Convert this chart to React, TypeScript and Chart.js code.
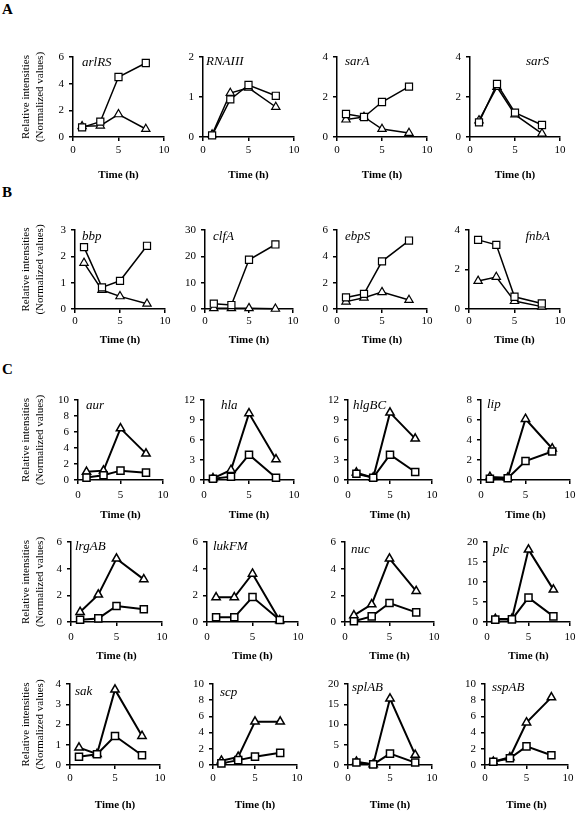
import React, { useEffect, useRef } from 'react';
import { Chart, registerables } from 'chart.js';

Chart.register(...registerables);

const FONT = '"Liberation Serif", "Times New Roman", serif';

// sampling times (h)
const hours = [1, 3, 5, 8];
const xTickValues = [0, 5, 10];

// ---- Panel A ----
const arlRSSquares = [0.72, 1.15, 4.5, 5.55];
const arlRSTriangles = [0.8, 0.85, 1.7, 0.6];
const RNAIIISquares = [0.04, 0.94, 1.3, 1.03];
const RNAIIITriangles = [0.06, 1.1, 1.23, 0.75];
const sarASquares = [1.15, 1.0, 1.75, 2.52];
const sarATriangles = [0.87, 1.0, 0.4, 0.2];
const sarSSquares = [0.73, 2.65, 1.22, 0.6];
const sarSTriangles = [0.83, 2.5, 1.12, 0.17];

// ---- Panel B ----
const bbpSquares = [2.35, 0.82, 1.07, 2.4];
const bbpTriangles = [1.75, 0.72, 0.48, 0.2];
const clfASquares = [2.0, 1.5, 18.7, 24.5];
const clfATriangles = [0.3, 0.3, 0.3, 0.05];
const ebpSSquares = [0.88, 1.15, 3.62, 5.2];
const ebpSTriangles = [0.56, 0.85, 1.28, 0.68];
const fnbASquares = [3.5, 3.25, 0.62, 0.28];
const fnbATriangles = [1.42, 1.62, 0.4, 0.12];

// ---- Panel C ----
const aurSquares = [0.3, 0.6, 1.17, 0.92];
const aurTriangles = [1.02, 1.17, 6.45, 3.3];
const hlaSquares = [0.2, 0.5, 3.8, 0.35];
const hlaTriangles = [0.25, 1.5, 10.0, 3.1];
const hlgBCSquares = [0.95, 0.35, 3.8, 1.2];
const hlgBCTriangles = [1.1, 0.35, 10.1, 6.2];
const lipSquares = [0.13, 0.17, 1.9, 2.85];
const lipTriangles = [0.3, 0.23, 6.1, 3.15];
const lrgABSquares = [0.17, 0.27, 1.2, 0.95];
const lrgABTriangles = [0.75, 2.05, 4.75, 3.2];
const lukFMSquares = [0.35, 0.35, 1.87, 0.15];
const lukFMTriangles = [1.85, 1.85, 3.62, 0.12];
const nucSquares = [0.05, 0.42, 1.42, 0.72];
const nucTriangles = [0.5, 1.32, 4.75, 2.32];
const plcSquares = [0.6, 0.65, 6.1, 1.4];
const plcTriangles = [0.75, 0.8, 18.1, 8.1];
const sakSquares = [0.41, 0.53, 1.43, 0.48];
const sakTriangles = [0.86, 0.54, 3.72, 1.43];
const scpSquares = [0.2, 0.6, 1.03, 1.5];
const scpTriangles = [0.53, 1.0, 5.35, 5.35];
const splABSquares = [0.6, 0.15, 2.8, 0.6];
const splABTriangles = [0.8, 0.15, 16.4, 2.5];
const sspABSquares = [0.4, 0.83, 2.3, 1.2];
const sspABTriangles = [0.4, 0.95, 5.25, 8.35];

const geneNames = [
  'arlRS', 'RNAIII', 'sarA', 'sarS',
  'bbp', 'clfA', 'ebpS', 'fnbA',
  'aur', 'hla', 'hlgBC', 'lip',
  'lrgAB', 'lukFM', 'nuc', 'plc',
  'sak', 'scp', 'splAB', 'sspAB',
];
const squareSeries = [
  arlRSSquares, RNAIIISquares, sarASquares, sarSSquares,
  bbpSquares, clfASquares, ebpSSquares, fnbASquares,
  aurSquares, hlaSquares, hlgBCSquares, lipSquares,
  lrgABSquares, lukFMSquares, nucSquares, plcSquares,
  sakSquares, scpSquares, splABSquares, sspABSquares,
];
const triangleSeries = [
  arlRSTriangles, RNAIIITriangles, sarATriangles, sarSTriangles,
  bbpTriangles, clfATriangles, ebpSTriangles, fnbATriangles,
  aurTriangles, hlaTriangles, hlgBCTriangles, lipTriangles,
  lrgABTriangles, lukFMTriangles, nucTriangles, plcTriangles,
  sakTriangles, scpTriangles, splABTriangles, sspABTriangles,
];
const yMaxValues = [6, 2, 4, 4, 3, 30, 6, 4, 10, 12, 12, 8, 6, 6, 6, 20, 4, 10, 20, 10];
const yStepValues = [2, 1, 2, 2, 1, 10, 2, 2, 2, 3, 3, 2, 2, 2, 2, 5, 1, 2, 5, 2];

const xTitle = 'Time (h)';
const yTitle = ['Relative intensities', '(Normalized values)'];
const sectionLetters = ['A', 'B', 'C'];

// ---- layout (page pixels) ----
const ROWS = [
  { top: 57, bottom: 137, tickY: 150, titleY: 175, lw: 1.5, cols: [[73, 164], [203, 294], [337, 427], [470, 560]] },
  { top: 230, bottom: 309, tickY: 321, titleY: 340, lw: 1.5, cols: [[75, 165], [205, 293], [337, 427], [469, 560]] },
  { top: 400, bottom: 480, tickY: 495, titleY: 515, lw: 2, cols: [[78, 163], [204, 294], [348, 432], [481, 570]] },
  { top: 542, bottom: 622, tickY: 637, titleY: 656, lw: 2, cols: [[71, 162], [207, 298], [345, 434], [487, 570]] },
  { top: 684, bottom: 765, tickY: 778, titleY: 805, lw: 2, cols: [[70, 160], [213, 297], [348, 432], [485, 568]] },
];
const LABEL_POS: [number, number, 'left' | 'right'][] = [
  [9, 6, 'left'], [3, 5, 'left'], [8, 5, 'left'], [11, 5, 'right'],
  [7, 7, 'left'], [8, 7, 'left'], [8, 7, 'left'], [10, 7, 'right'],
  [8, 6, 'left'], [17, 6, 'left'], [5, 6, 'left'], [6, 5, 'left'],
  [4, 5, 'left'], [6, 5, 'left'], [6, 8, 'left'], [6, 8, 'left'],
  [5, 8, 'left'], [7, 9, 'left'], [4, 4, 'left'], [7, 4, 'left'],
];
const LETTER_TOPS = [2, 185, 362];

const geneLabelPlugin = {
  id: 'geneLabel',
  afterDatasetsDraw(chart: any, _args: any, opts: any) {
    const { ctx, chartArea } = chart;
    ctx.save();
    ctx.font = `italic 13px ${FONT}`;
    ctx.fillStyle = '#000';
    ctx.textBaseline = 'middle';
    ctx.textAlign = opts.align;
    const x = opts.align === 'right' ? chartArea.right - opts.dx : chartArea.left + opts.dx;
    ctx.fillText(opts.text, x, chartArea.top + opts.dy);
    ctx.restore();
  },
};

function Panel({ idx }: { idx: number }) {
  const ref = useRef<HTMLCanvasElement>(null);
  const rowIdx = Math.floor(idx / 4);
  const colIdx = idx % 4;
  const row = ROWS[rowIdx];
  const [x0, x1] = row.cols[colIdx];
  const isLeft = colIdx === 0;
  const L = isLeft ? x0 : 50;
  const T = 12;
  const R = 14;
  const H = Math.round(row.titleY + 6.6 - row.bottom);
  const W = L + (x1 - x0) + R;
  const HC = T + (row.bottom - row.top) + H;
  const tickPad = row.tickY - row.bottom - 4 - 6.6;

  useEffect(() => {
    if (!ref.current) return;
    const lw = row.lw;
    const mk = (vals: number[]) => hours.map((h, i) => ({ x: h, y: vals[i] }));
    const [dx, dy, align] = LABEL_POS[idx];
    const chart = new Chart(ref.current, {
      type: 'line',
      data: {
        datasets: [
          {
            label: 'squares',
            data: mk(squareSeries[idx]),
            borderColor: '#000',
            borderWidth: lw,
            pointStyle: 'rect',
            pointRadius: 5,
            pointBackgroundColor: '#fff',
            pointBorderColor: '#000',
            pointBorderWidth: lw === 2 ? 1.5 : 1.2,
            tension: 0,
            clip: false,
          },
          {
            label: 'triangles',
            data: mk(triangleSeries[idx]),
            borderColor: '#000',
            borderWidth: lw,
            pointStyle: 'triangle',
            pointRadius: 4.8,
            pointBackgroundColor: '#fff',
            pointBorderColor: '#000',
            pointBorderWidth: lw === 2 ? 1.5 : 1.2,
            tension: 0,
            clip: false,
          },
        ],
      },
      options: {
        animation: false,
        responsive: false,
        maintainAspectRatio: false,
        events: [],
        layout: { padding: { left: 0, top: T, right: R, bottom: 0 } },
        plugins: {
          legend: { display: false },
          tooltip: { enabled: false },
          geneLabel: { text: geneNames[idx], dx, dy, align },
        } as any,
        scales: {
          x: {
            type: 'linear',
            min: 0,
            max: 10,
            afterBuildTicks: (scale: any) => {
              scale.ticks = xTickValues.map((v) => ({ value: v }));
            },
            ticks: {
              color: '#000',
              font: { family: FONT, size: 11 },
              padding: tickPad,
              maxRotation: 0,
              autoSkip: false,
            },
            grid: { drawOnChartArea: false, drawTicks: true, tickLength: 4, color: '#000', lineWidth: 1.5 },
            border: { display: true, color: '#000', width: 1.5 },
            title: {
              display: true,
              text: xTitle,
              color: '#000',
              font: { family: FONT, size: 11, weight: 'bold', lineHeight: 1.2 },
              padding: { top: 0, bottom: 0 },
            },
            afterFit: (scale: any) => {
              scale.height = H;
              scale.paddingLeft = 0;
              scale.paddingRight = 0;
              scale.paddingTop = 0;
              scale.paddingBottom = 0;
            },
          },
          y: {
            type: 'linear',
            min: 0,
            max: yMaxValues[idx],
            ticks: {
              stepSize: yStepValues[idx],
              color: '#000',
              font: { family: FONT, size: 11 },
              padding: 5,
              autoSkip: false,
            },
            grid: { drawOnChartArea: false, drawTicks: true, tickLength: 4, color: '#000', lineWidth: 1.5 },
            border: { display: true, color: '#000', width: 1.5 },
            title: {
              display: isLeft,
              text: yTitle,
              color: '#000',
              font: { family: FONT, size: 11, lineHeight: 1.25 },
              padding: { top: 19, bottom: 0 },
            },
            afterFit: (scale: any) => {
              scale.width = L;
              scale.paddingLeft = 0;
              scale.paddingRight = 0;
              scale.paddingTop = 0;
              scale.paddingBottom = 0;
            },
          },
        },
      } as any,
      plugins: [geneLabelPlugin],
    });
    return () => chart.destroy();
  }, [idx]);

  return (
    <canvas
      ref={ref}
      width={W}
      height={HC}
      style={{ position: 'absolute', left: x0 - L, top: row.top - T, width: W, height: HC }}
    />
  );
}

export default function App() {
  return (
    <div style={{ position: 'absolute', left: 0, top: 0, width: 576, height: 816, background: '#fff', overflow: 'hidden' }}>
      {sectionLetters.map((s, i) => (
        <div
          key={s}
          style={{
            position: 'absolute',
            left: 2,
            top: LETTER_TOPS[i],
            font: `bold 15px ${FONT}`,
            lineHeight: '15px',
            color: '#000',
          }}
        >
          {s}
        </div>
      ))}
      {geneNames.map((_, i) => (
        <Panel key={i} idx={i} />
      ))}
    </div>
  );
}
